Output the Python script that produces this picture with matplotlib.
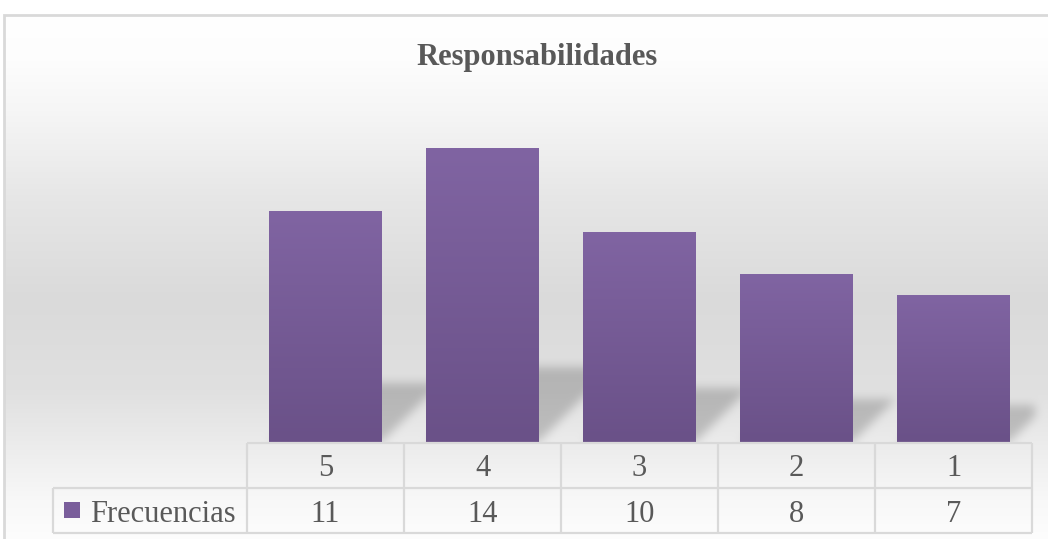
import numpy as np
import matplotlib.pyplot as plt
from matplotlib.patches import Rectangle

# chart data
categories = ['5', '4', '3', '2', '1']
frecuencias = [11, 14, 10, 8, 7]
series_name = 'Frecuencias'
title = 'Responsabilidades'

W, H = 1048, 539
plt.rcParams['font.family'] = ['Liberation Serif', 'DejaVu Serif']
text_color = '#595959'
line_color = '#d9d9d9'
bar_top = np.array([0x80, 0x64, 0xa2]) / 255
bar_bottom = np.array([0x6a, 0x51, 0x88]) / 255


def box_blur(a, r):
    # separable box filter, used for the soft floor shadow
    for axis in (0, 1):
        pad = [(0, 0), (0, 0)]
        pad[axis] = (r + 1, r)
        c = np.cumsum(np.pad(a, pad, mode='edge'), axis=axis)
        n = a.shape[axis]
        a = (np.take(c, np.arange(2 * r + 1, 2 * r + 1 + n), axis=axis)
             - np.take(c, np.arange(0, n), axis=axis)) / (2 * r + 1)
    return a


fig = plt.figure(figsize=(W / 100, H / 100), dpi=100)

# backdrop axes in pixel units
bg = fig.add_axes([0, 0, 1, 1], zorder=0)
bg.set_xlim(0, W)
bg.set_ylim(0, H)
bg.axis('off')

# plot area for the bars
ax = fig.add_axes([247 / W, 1 - 442 / H, 785 / W, 336 / H], zorder=2)
ax.set_xlim(-0.5, 4.5)
ax.set_ylim(0, 16)
ax.axis('off')

x = np.arange(len(categories))
width = 0.714
bars = ax.bar(x, frecuencias, width=width, color='none', edgecolor='none')
grad = np.linspace(0, 1, 64)[:, None, None]
grad = bar_top * (1 - grad) + bar_bottom * grad
for b in bars:
    x0, h = b.get_x(), b.get_height()
    im = ax.imshow(grad, extent=(x0, x0 + b.get_width(), 0, h),
                   origin='upper', aspect='auto', interpolation='bilinear')
    im.set_clip_path(b)
ax.set_xlim(-0.5, 4.5)
ax.set_ylim(0, 16)

# grey wash inside the chart frame
rows = np.arange(H)
stop_rows = [15, 60, 110, 200, 300, 390, 445, 500, 539]
stop_vals = [255, 253, 246, 230, 218, 224, 236, 248, 253]
shade = np.interp(rows, stop_rows, stop_vals) / 255
img = np.ones((H, W))
img[15:, 4:] = shade[15:, None]

# skewed floor shadow behind each bar
X, Y = np.meshgrid(np.arange(W) + 0.5, H - (np.arange(H) + 0.5))
mask = np.zeros((H, W))
right_edge = ax.transAxes.transform((1, 0))[0] + 3
for b in bars:
    xl, yb = ax.transData.transform((b.get_x(), 0))
    xr, yt = ax.transData.transform((b.get_x() + b.get_width(), b.get_height()))
    s = 0.255 * (yt - yb)
    dy = Y - yb
    m = (dy >= 0) & (dy <= s) & (X >= xl + dy) & (X <= xr + dy) & (X <= right_edge)
    mask = np.maximum(mask, m.astype(float))
mask = box_blur(box_blur(mask, 5), 5)
base = ax.transData.transform((0, 0))[1]
mask[Y < base] = 0
img = img * (1 - 0.19 * mask)

rgb = np.repeat(img[:, :, None], 3, axis=2)
bg.imshow(rgb, extent=(0, W, 0, H), origin='upper', aspect='auto',
          interpolation='bilinear')
bg.add_patch(Rectangle((4, -20), W + 40, H - 15 + 20, fill=False,
                       edgecolor=line_color, lw=2))
bg.set_xlim(0, W)
bg.set_ylim(0, H)

bg.text(537, H - 57, title, ha='center', va='center', fontsize=22,
        fontweight='bold', color=text_color)

# data table under the bars
label_col = 1.236
x_left = -0.5 - label_col
tab = fig.add_axes([53 / W, 6 / H, 979 / W, 90 / H], zorder=3)
tab.set_xlim(x_left, 4.5)
tab.set_ylim(0, 2)
tab.axis('off')
lk = dict(color=line_color, lw=1.6, clip_on=False, solid_capstyle='butt')
tab.plot([-0.5, 4.5], [2, 2], **lk)
tab.plot([x_left, 4.5], [1, 1], **lk)
tab.plot([x_left, 4.5], [0, 0], **lk)
tab.plot([x_left, x_left], [0, 1], **lk)
for i in range(len(categories) + 1):
    tab.plot([i - 0.5, i - 0.5], [0, 2], **lk)
for i, (c, v) in enumerate(zip(categories, frecuencias)):
    tab.text(i, 1.5, c, ha='center', va='center_baseline', fontsize=22,
             color=text_color)
    tab.text(i, 0.5, str(v), ha='center', va='center_baseline', fontsize=22,
             color=text_color)
tab.add_patch(Rectangle((x_left + 0.07, 0.33), 0.105, 0.35,
                        facecolor='#7a5e9b', edgecolor='none'))
tab.text(x_left + 0.236, 0.5, series_name, ha='left', va='center_baseline',
         fontsize=22, color=text_color)

fig.savefig('out.png', dpi=100)
